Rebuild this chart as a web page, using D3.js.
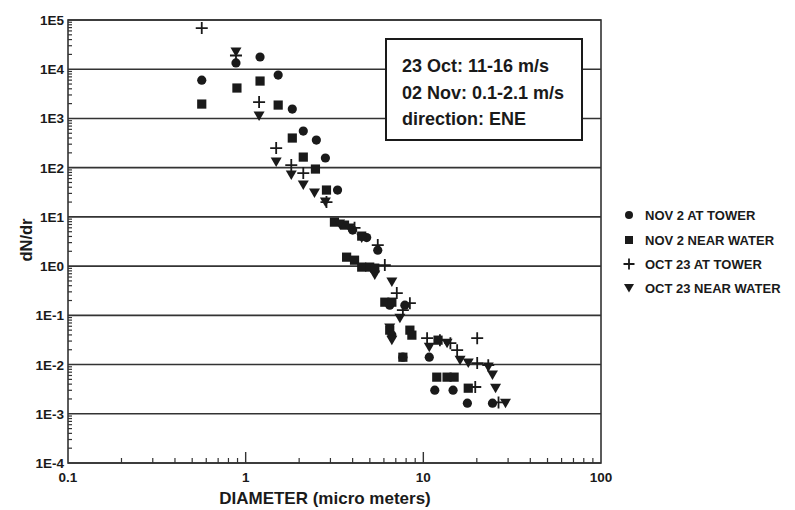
<!DOCTYPE html>
<html><head><meta charset="utf-8">
<script src="https://cdn.jsdelivr.net/npm/d3@7"></script>
<style>
body{margin:0;background:#fff}
text{font-family:"Liberation Sans",Arial,Helvetica,sans-serif;font-weight:bold;fill:#1a1a1a}
</style>
</head><body>
<svg id="c" width="795" height="510"></svg>
<script>
const xTickValues = [0.1, 1, 10, 100];
const xTickLabels = ["0.1", "1", "10", "100"];
const yTickValues = [1e5, 1e4, 1e3, 1e2, 1e1, 1, 1e-1, 1e-2, 1e-3, 1e-4];
const yTickLabels = ["1E5", "1E4", "1E3", "1E2", "1E1", "1E0", "1E-1", "1E-2", "1E-3", "1E-4"];
const seriesNames = ["NOV 2 AT TOWER", "NOV 2 NEAR WATER", "OCT 23 AT TOWER", "OCT 23 NEAR WATER"];
const boxLines = ["23 Oct: 11-16 m/s", "02 Nov: 0.1-2.1 m/s", "direction: ENE"];

const nov2Tower = [
  [0.566, 6.0e3], [0.882, 1.34e4], [1.205, 1.77e4], [1.524, 7.6e3], [1.83, 1.55e3],
  [2.11, 555], [2.50, 364], [2.81, 157], [3.29, 35.1], [4.0, 5.39], [4.8, 3.8],
  [5.54, 2.11], [6.47, 0.161], [7.87, 0.161], [6.65, 0.04], [7.67, 0.0141],
  [10.8, 0.0141], [11.6, 0.00302], [14.7, 0.00302], [17.7, 0.00164], [24.5, 0.00164]
];
const nov2Water = [
  [0.566, 1.96e3], [0.893, 4.15e3], [1.205, 5.75e3], [1.524, 1.87e3], [1.83, 400],
  [2.11, 164], [2.47, 93.7], [2.85, 35.1], [3.16, 7.83], [3.6, 6.81], [4.5, 4.07],
  [3.7, 1.52], [4.1, 1.32], [4.5, 0.955], [4.99, 0.955], [5.33, 0.91],
  [6.07, 0.185], [6.65, 0.185], [6.47, 0.05], [8.4, 0.05], [8.62, 0.0396],
  [7.67, 0.0141], [12.1, 0.0313], [11.9, 0.00555], [13.6, 0.00555], [14.9, 0.00555], [17.9, 0.00331]
];
const oct23Tower = [
  [0.566, 6.87e4], [0.882, 1.9e4], [1.19, 2.15e3], [1.485, 250], [1.806, 113],
  [2.11, 77.6], [2.85, 20], [4.1, 6.0], [5.54, 2.67], [6.07, 1.05], [7.09, 0.283],
  [8.4, 0.177], [7.67, 0.128], [10.5, 0.0344], [12.4, 0.0313], [14.2, 0.0272],
  [15.5, 0.0196], [20.1, 0.0344], [20.1, 0.0107], [23.2, 0.0097], [19.6, 0.0035], [26.5, 0.0017]
];
const oct23Water = [
  [0.882, 2.24e4], [1.19, 1.12e3], [1.485, 130], [1.806, 70.8], [2.11, 44.3],
  [2.44, 30.5], [2.81, 20], [3.38, 7.14], [3.84, 5.92], [4.5, 3.71], [5.33, 0.656],
  [6.65, 0.473], [7.38, 0.0877], [6.47, 0.055], [6.65, 0.0313], [10.8, 0.0226],
  [13.6, 0.0272], [16.1, 0.0123], [17.9, 0.0107], [23.2, 0.0089], [24.5, 0.0061],
  [25.5, 0.0033], [29.0, 0.00164]
];

const svg = d3.select("#c");
const x = d3.scaleLog().domain([0.1, 100]).range([68, 601]);
const y = d3.scaleLog().domain([1e-4, 1e5]).range([463, 20]);
const ink = "#1a1a1a", lineC = "#333";

// gridlines
svg.append("g").selectAll("line").data(yTickValues).join("line")
  .attr("x1", x(0.1)).attr("x2", x(100))
  .attr("y1", d => y(d)).attr("y2", d => y(d))
  .attr("stroke", lineC).attr("stroke-width", 1.6);

// frame
svg.append("rect").attr("x", x(0.1)).attr("y", y(1e5))
  .attr("width", x(100) - x(0.1)).attr("height", y(1e-4) - y(1e5))
  .attr("fill", "none").attr("stroke", lineC).attr("stroke-width", 1.6);

// minor ticks y
const yMinor = [];
for (let e = -4; e < 5; e++) for (let k = 2; k <= 9; k++) yMinor.push(k * Math.pow(10, e));
svg.append("g").selectAll("line").data(yMinor).join("line")
  .attr("x1", x(0.1)).attr("x2", x(0.1) + 4)
  .attr("y1", d => y(d)).attr("y2", d => y(d))
  .attr("stroke", lineC).attr("stroke-width", 1.2);

// minor ticks x
const xMinor = [];
for (let e = -1; e < 2; e++) for (let k = 2; k <= 9; k++) xMinor.push(k * Math.pow(10, e));
svg.append("g").selectAll("line").data(xMinor).join("line")
  .attr("x1", d => x(d)).attr("x2", d => x(d))
  .attr("y1", y(1e-4)).attr("y2", y(1e-4) - 5)
  .attr("stroke", lineC).attr("stroke-width", 1.2);
svg.append("g").selectAll("line").data([1, 10]).join("line")
  .attr("x1", d => x(d)).attr("x2", d => x(d))
  .attr("y1", y(1e-4)).attr("y2", y(1e-4) - 11)
  .attr("stroke", lineC).attr("stroke-width", 1.4);

// tick labels
svg.append("g").selectAll("text").data(yTickValues).join("text")
  .attr("x", 64).attr("y", d => y(d) + 5).attr("text-anchor", "end")
  .attr("font-size", 13.5).text((d, i) => yTickLabels[i]);
svg.append("g").selectAll("text").data(xTickValues).join("text")
  .attr("x", d => x(d)).attr("y", 482).attr("text-anchor", "middle")
  .attr("font-size", 13.5).text((d, i) => xTickLabels[i]);

// axis titles
svg.append("text").attr("x", 325).attr("y", 504).attr("text-anchor", "middle")
  .attr("font-size", 17).text("DIAMETER (micro meters)");
svg.append("text").attr("transform", "translate(32,240) rotate(-90)")
  .attr("text-anchor", "middle").attr("font-size", 16.5).text("dN/dr");

// info box
svg.append("rect").attr("x", 386).attr("y", 39).attr("width", 196).attr("height", 101)
  .attr("fill", "#fff").attr("stroke", ink).attr("stroke-width", 2);
svg.append("g").selectAll("text").data(boxLines).join("text")
  .attr("x", 402).attr("y", (d, i) => 72 + i * 26.5).attr("font-size", 18)
  .text(d => d);

// markers
function drawCircle(g, pts) {
  g.selectAll("circle.m").data(pts).join("circle").attr("class", "m")
    .attr("cx", d => x(d[0])).attr("cy", d => y(d[1])).attr("r", 4.6).attr("fill", ink);
}
function drawSquare(g, pts) {
  g.selectAll("rect.m").data(pts).join("rect").attr("class", "m")
    .attr("x", d => x(d[0]) - 4.6).attr("y", d => y(d[1]) - 4.6)
    .attr("width", 9.2).attr("height", 9.2).attr("fill", ink);
}
function drawPlus(g, pts) {
  g.selectAll("path.m").data(pts).join("path").attr("class", "m")
    .attr("d", d => { const cx = x(d[0]), cy = y(d[1]);
      return `M${cx-6},${cy}H${cx+6}M${cx},${cy-6}V${cy+6}`; })
    .attr("stroke", ink).attr("stroke-width", 1.8).attr("fill", "none");
}
function drawTri(g, pts) {
  g.selectAll("path.m").data(pts).join("path").attr("class", "m")
    .attr("d", d => { const cx = x(d[0]), cy = y(d[1]);
      return `M${cx-5.5},${cy-4.5}L${cx+5.5},${cy-4.5}L${cx},${cy+5}Z`; })
    .attr("fill", ink);
}
drawCircle(svg.append("g"), nov2Tower);
drawSquare(svg.append("g"), nov2Water);
drawTri(svg.append("g"), oct23Water);
drawPlus(svg.append("g"), oct23Tower);

// legend
const legY = [215, 240, 264, 288];
const lg = svg.append("g");
const lx = 629;
lg.append("circle").attr("cx", lx).attr("cy", legY[0]).attr("r", 4).attr("fill", ink);
lg.append("rect").attr("x", lx - 4).attr("y", legY[1] - 4).attr("width", 8).attr("height", 8).attr("fill", ink);
lg.append("path").attr("d", `M${lx-5.5},${legY[2]}H${lx+5.5}M${lx},${legY[2]-5.5}V${legY[2]+5.5}`)
  .attr("stroke", ink).attr("stroke-width", 1.8);
lg.append("path").attr("d", `M${lx-5},${legY[3]-4}L${lx+5},${legY[3]-4}L${lx},${legY[3]+4.5}Z`).attr("fill", ink);
lg.selectAll("text").data(seriesNames).join("text")
  .attr("x", 645).attr("y", (d, i) => legY[i] + 4.5).attr("font-size", 13)
  .text(d => d);
</script>
</body></html>
